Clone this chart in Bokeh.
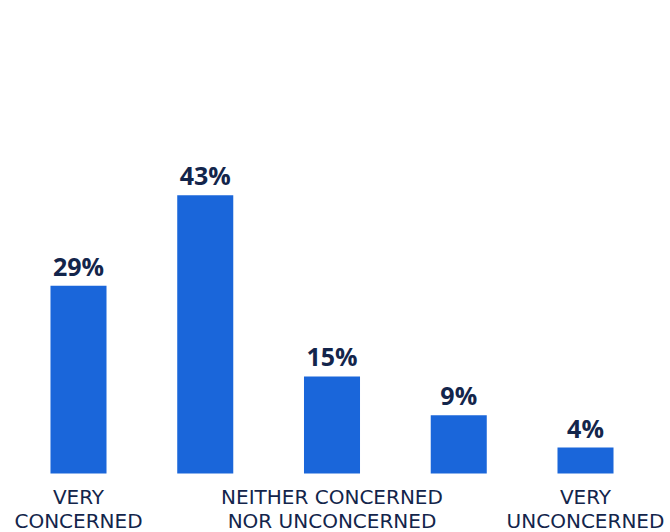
from bokeh.plotting import figure
from bokeh.models import ColumnDataSource, Range1d
from bokeh.core.properties import value
from bokeh.embed import file_html
from bokeh.resources import INLINE

categories = ["Very concerned", "Concerned", "Neither concerned nor unconcerned", "Unconcerned", "Very unconcerned"]
values = [29, 43, 15, 9, 4]
value_labels = ["29%", "43%", "15%", "9%", "4%"]
axis_labels = ["VERY\nCONCERNED", "", "NEITHER CONCERNED\nNOR UNCONCERNED", "", "VERY\nUNCONCERNED"]

xs = list(range(len(categories)))
src = ColumnDataSource(dict(x=xs, top=values, vlab=value_labels, alab=axis_labels, zero=[0] * len(xs)))

BAR = "#1a66da"
NAVY = "#13254b"

W, H = 670, 532
PX_X = 126.75   # pixels per category step
PX_Y = 6.47     # pixels per percent
X0, Y0 = 78, 473  # pixel position of first bar centre and baseline

p = figure(width=W, height=H, output_backend="svg", toolbar_location=None,
           x_range=Range1d(-X0 / PX_X, (W - X0) / PX_X),
           y_range=Range1d(-(H - Y0) / PX_Y, Y0 / PX_Y),
           min_border=0, min_border_left=0, min_border_right=0, min_border_top=0, min_border_bottom=0)
p.axis.visible = False
p.grid.visible = False
p.outline_line_color = None
p.background_fill_color = "white"
p.border_fill_color = "white"

p.vbar(x="x", top="top", bottom=0, width=0.442, source=src, fill_color=BAR, line_color=None)

p.text(x="x", y="top", text="vlab", source=src, text_align="center", text_baseline="alphabetic",
       y_offset=-20, text_font=value("Open Sans"), text_font_style="bold", text_font_size="25px",
       text_color=NAVY)

p.text(x="x", y="zero", text="alab", source=src, text_align="center", text_baseline="top",
       y_offset=11, text_font=value("DejaVu Sans"), text_font_size="20px", text_line_height=1.0,
       text_color=NAVY)

open("out.html", "w").write(file_html(p, INLINE))
